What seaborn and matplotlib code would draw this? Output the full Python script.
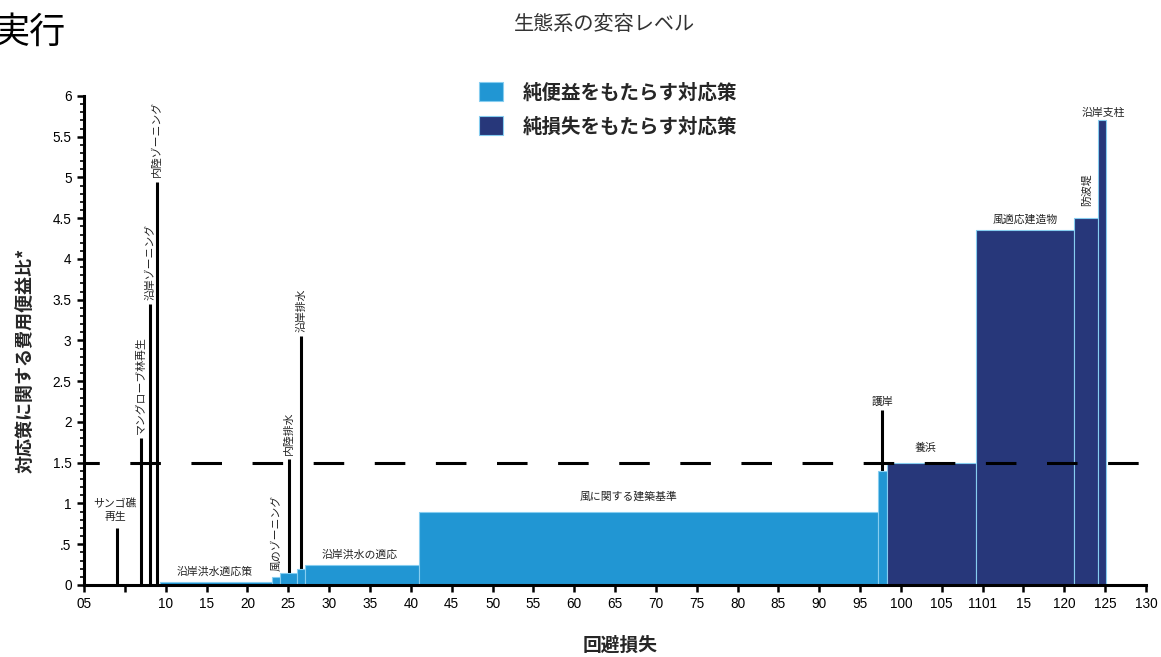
import numpy as np
import matplotlib.pyplot as plt
import seaborn as sns
from matplotlib.patches import Patch
from matplotlib.ticker import MultipleLocator

# values
benefit_edges = [9.3, 23.0, 24.0, 26.1, 27.1, 41.0, 97.2, 98.3]
benefit_ratio = [0.04, 0.10, 0.15, 0.20, 0.25, 0.90, 1.40]
loss_edges = [98.3, 109.2, 121.2, 124.1, 125.1]
loss_ratio = [1.50, 4.35, 4.50, 5.70]

line_x = [4.0, 7.0, 8.1, 8.9, 25.1, 26.6, 97.7]
line_ratio = [0.70, 1.80, 3.45, 4.95, 1.55, 3.05, 2.15]
line_names = ["マングローブ林再生", "沿岸ゾーニング", "内陸ゾーニング", "内陸排水", "沿岸排水"]
threshold = 1.5

x_ticks = list(range(0, 131, 5))
x_tick_labels = ["05", "", "10", "15", "20", "25", "30", "35", "40", "45", "50", "55", "60",
                 "65", "70", "75", "80", "85", "90", "95", "100", "105", "1101", "15", "120",
                 "125", "130"]
y_ticks = [0, 0.5, 1, 1.5, 2, 2.5, 3, 3.5, 4, 4.5, 5, 5.5, 6]
y_tick_labels = ["0", ".5", "1", "1.5", "2", "2.5", "3", "3.5", "4", "4.5", "5", "5.5", "6"]

legend_labels = ["純便益をもたらす対応策", "純損失をもたらす対応策"]

BLUE = "#2196d3"
NAVY = "#27377a"
EDGE = "#86cdf0"
JP = "Noto Sans CJK JP"

sns.set_theme(style="ticks")
plt.rcParams["font.family"] = ["Liberation Sans", JP, "DejaVu Sans"]

fig = plt.figure(figsize=(11.61, 6.57), dpi=100)
ax = fig.add_axes([0.0724, 0.1096, 0.9147, 0.7443])

# variable-width bars as weighted histograms
b_edges = np.array(benefit_edges)
sns.histplot(x=(b_edges[:-1] + b_edges[1:]) / 2, weights=benefit_ratio, bins=benefit_edges,
             stat="count", color=BLUE, edgecolor=EDGE, linewidth=0.8, alpha=1, zorder=2, ax=ax)
l_edges = np.array(loss_edges)
sns.histplot(x=(l_edges[:-1] + l_edges[1:]) / 2, weights=loss_ratio, bins=loss_edges,
             stat="count", color=NAVY, edgecolor=EDGE, linewidth=0.8, alpha=1, zorder=2, ax=ax)

# thin measures drawn as black lines
ax.vlines(line_x, 0, line_ratio, color="black", linewidth=2.2, zorder=1.5)

# threshold
ax.axhline(threshold, color="black", linewidth=2.2, linestyle=(5, (10, 10)), zorder=5)

# labels on the thin lines
txt = dict(family=JP, color="#222222", fontsize=7.8)
ax.text(3.8, 0.91, "サンゴ礁\n再生", ha="center", va="center", linespacing=1.35, **txt)
for x, r, name in zip(line_x[1:6], line_ratio[1:6], line_names):
    ax.text(x, r + 0.05, name, rotation=90, ha="center", va="bottom", **txt)
ax.text(line_x[6], line_ratio[6] + 0.04, "護岸", ha="center", va="bottom", **txt)

# labels on the bars
ax.text(16.0, 0.16, "沿岸洪水適応策", ha="center", va="center", **txt)
ax.text(23.5, 0.17, "風のゾーニング", rotation=90, ha="center", va="bottom", **txt)
ax.text(33.7, 0.37, "沿岸洪水の適応", ha="center", va="center", **txt)
ax.text(66.7, 1.09, "風に関する建築基準", ha="center", va="center", **txt)
ax.text(103.0, 1.68, "養浜", ha="center", va="center", **txt)
ax.text(115.2, 4.49, "風適応建造物", ha="center", va="center", **txt)
ax.text(122.8, 4.85, "防波堤", rotation=90, ha="center", va="center", **txt)
ax.text(124.8, 5.79, "沿岸支柱", ha="center", va="center", **txt)

# axes
ax.set_xlim(0, 130)
ax.set_ylim(0, 6)
ax.set_xticks(x_ticks)
ax.set_xticklabels(x_tick_labels)
ax.set_yticks(y_ticks)
ax.set_yticklabels(y_tick_labels)
ax.yaxis.set_minor_locator(MultipleLocator(0.1))
ax.tick_params(axis="both", which="major", direction="out", length=5, width=1.8,
               labelsize=9.8, colors="black", pad=4)
ax.tick_params(axis="y", which="minor", direction="out", length=3, width=1.2, colors="black")
sns.despine(ax=ax)
for side in ["left", "bottom"]:
    ax.spines[side].set_linewidth(2.2)
    ax.spines[side].set_color("black")

ax.set_ylabel("対応策に関する費用便益比*", family=JP, fontsize=13, fontweight="bold",
              va="center", ha="center")
ax.yaxis.set_label_coords(-0.056, 0.46)
ax.set_xlabel("回避損失", family=JP, fontsize=13.5, fontweight="bold", va="center", ha="center")
ax.xaxis.set_label_coords(0.505, -0.123)

# legend and header texts
handles = [Patch(facecolor=BLUE, edgecolor=EDGE, linewidth=0.8),
           Patch(facecolor=NAVY, edgecolor=EDGE, linewidth=0.8)]
fig.legend(handles, legend_labels, loc="upper left", bbox_to_anchor=(0.4126, 0.875),
           frameon=False, prop=dict(family=JP, weight="bold", size=14),
           handlelength=1.25, handleheight=1.15, handletextpad=1.0, labelspacing=0.7,
           borderpad=0, borderaxespad=0)

fig.text(0.521, 0.963, "生態系の変容レベル", ha="center", va="center", family=JP,
         fontsize=14.5, color="#333333")
fig.text(-0.006, 0.95, "実行", ha="left", va="center", family=JP, fontsize=26, color="black")

fig.savefig("out.png", dpi=100)
